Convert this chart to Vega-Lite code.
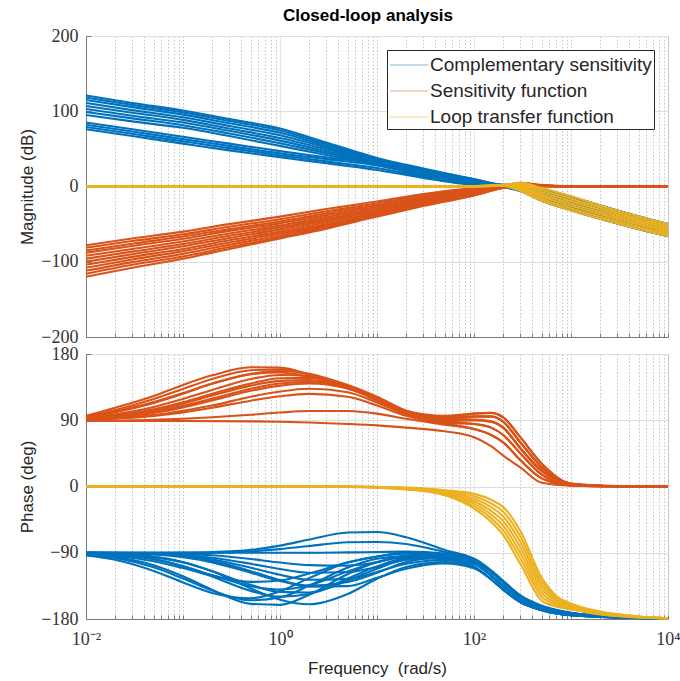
{
"$schema": "https://vega.github.io/schema/vega-lite/v6.json",
"background": "white",
"padding": {"left": 17, "top": 6, "right": 0, "bottom": 0},
"spacing": 17,
"bounds": "flush",
"config": {
  "view": {"stroke": "#7a7a7a", "strokeWidth": 1},
  "axis": {
    "labelFont": "Liberation Serif", "labelFontSize": 18, "labelColor": "#333333",
    "titleFont": "Liberation Sans", "titleFontSize": 17, "titleFontWeight": "normal", "titleColor": "#262626",
    "domainColor": "#7a7a7a", "tickColor": "#7a7a7a", "gridColor": "#dedede", "gridWidth": 1
  }
},
"datasets": {
"mag": [
{"s":"T","c":1,"f":0.01,"v":121},{"s":"T","c":1,"f":0.03,"v":111},{"s":"T","c":1,"f":0.1,"v":101},{"s":"T","c":1,"f":0.3,"v":89.5},{"s":"T","c":1,"f":1,"v":77},{"s":"T","c":1,"f":3,"v":58.4},{"s":"T","c":1,"f":10,"v":38},{"s":"T","c":1,"f":30,"v":24},{"s":"T","c":1,"f":100,"v":10},{"s":"T","c":1,"f":200,"v":2.5},{"s":"T","c":1,"f":300,"v":3},{"s":"T","c":1,"f":500,"v":-3},{"s":"T","c":1,"f":1000,"v":-13.5},{"s":"T","c":1,"f":3000,"v":-32},{"s":"T","c":1,"f":10000,"v":-50},
{"s":"T","c":2,"f":0.01,"v":118},{"s":"T","c":2,"f":0.03,"v":108.5},{"s":"T","c":2,"f":0.1,"v":98.5},{"s":"T","c":2,"f":0.3,"v":87},{"s":"T","c":2,"f":1,"v":74.5},{"s":"T","c":2,"f":3,"v":56.4},{"s":"T","c":2,"f":10,"v":36.5},{"s":"T","c":2,"f":30,"v":23},{"s":"T","c":2,"f":100,"v":9.5},{"s":"T","c":2,"f":200,"v":2},{"s":"T","c":2,"f":300,"v":1},{"s":"T","c":2,"f":500,"v":-6},{"s":"T","c":2,"f":1000,"v":-17},{"s":"T","c":2,"f":3000,"v":-35.5},{"s":"T","c":2,"f":10000,"v":-53},
{"s":"T","c":3,"f":0.01,"v":115},{"s":"T","c":3,"f":0.03,"v":105.5},{"s":"T","c":3,"f":0.1,"v":95.5},{"s":"T","c":3,"f":0.3,"v":84},{"s":"T","c":3,"f":1,"v":71.5},{"s":"T","c":3,"f":3,"v":54.1},{"s":"T","c":3,"f":10,"v":35},{"s":"T","c":3,"f":30,"v":22},{"s":"T","c":3,"f":100,"v":9},{"s":"T","c":3,"f":200,"v":1.5},{"s":"T","c":3,"f":300,"v":-1},{"s":"T","c":3,"f":500,"v":-9.5},{"s":"T","c":3,"f":1000,"v":-20.5},{"s":"T","c":3,"f":3000,"v":-39},{"s":"T","c":3,"f":10000,"v":-56},
{"s":"T","c":4,"f":0.01,"v":111},{"s":"T","c":4,"f":0.03,"v":101.5},{"s":"T","c":4,"f":0.1,"v":92},{"s":"T","c":4,"f":0.3,"v":80.5},{"s":"T","c":4,"f":1,"v":68},{"s":"T","c":4,"f":3,"v":51.8},{"s":"T","c":4,"f":10,"v":34},{"s":"T","c":4,"f":30,"v":21},{"s":"T","c":4,"f":100,"v":8},{"s":"T","c":4,"f":200,"v":1},{"s":"T","c":4,"f":300,"v":-2.5},{"s":"T","c":4,"f":500,"v":-12.5},{"s":"T","c":4,"f":1000,"v":-24},{"s":"T","c":4,"f":3000,"v":-42},{"s":"T","c":4,"f":10000,"v":-59},
{"s":"T","c":5,"f":0.01,"v":107},{"s":"T","c":5,"f":0.03,"v":98},{"s":"T","c":5,"f":0.1,"v":88.5},{"s":"T","c":5,"f":0.3,"v":77},{"s":"T","c":5,"f":1,"v":64.5},{"s":"T","c":5,"f":3,"v":49.5},{"s":"T","c":5,"f":10,"v":33},{"s":"T","c":5,"f":30,"v":20},{"s":"T","c":5,"f":100,"v":7},{"s":"T","c":5,"f":200,"v":0.5},{"s":"T","c":5,"f":300,"v":-4},{"s":"T","c":5,"f":500,"v":-15.5},{"s":"T","c":5,"f":1000,"v":-27.5},{"s":"T","c":5,"f":3000,"v":-45.5},{"s":"T","c":5,"f":10000,"v":-62.5},
{"s":"T","c":6,"f":0.01,"v":103},{"s":"T","c":6,"f":0.03,"v":94},{"s":"T","c":6,"f":0.1,"v":85},{"s":"T","c":6,"f":0.3,"v":74},{"s":"T","c":6,"f":1,"v":61},{"s":"T","c":6,"f":3,"v":46.9},{"s":"T","c":6,"f":10,"v":31.5},{"s":"T","c":6,"f":30,"v":19},{"s":"T","c":6,"f":100,"v":6.5},{"s":"T","c":6,"f":200,"v":0},{"s":"T","c":6,"f":300,"v":-6},{"s":"T","c":6,"f":500,"v":-19},{"s":"T","c":6,"f":1000,"v":-31.5},{"s":"T","c":6,"f":3000,"v":-49},{"s":"T","c":6,"f":10000,"v":-66},
{"s":"T","c":7,"f":0.01,"v":99},{"s":"T","c":7,"f":0.03,"v":90.5},{"s":"T","c":7,"f":0.1,"v":81.5},{"s":"T","c":7,"f":0.3,"v":70.5},{"s":"T","c":7,"f":1,"v":57.5},{"s":"T","c":7,"f":3,"v":44.4},{"s":"T","c":7,"f":10,"v":30},{"s":"T","c":7,"f":30,"v":18},{"s":"T","c":7,"f":100,"v":6},{"s":"T","c":7,"f":200,"v":-0.5},{"s":"T","c":7,"f":300,"v":3},{"s":"T","c":7,"f":500,"v":-3},{"s":"T","c":7,"f":1000,"v":-13.5},{"s":"T","c":7,"f":3000,"v":-32},{"s":"T","c":7,"f":10000,"v":-50},
{"s":"T","c":8,"f":0.01,"v":95},{"s":"T","c":8,"f":0.03,"v":86.5},{"s":"T","c":8,"f":0.1,"v":78},{"s":"T","c":8,"f":0.3,"v":67},{"s":"T","c":8,"f":1,"v":54},{"s":"T","c":8,"f":3,"v":41.8},{"s":"T","c":8,"f":10,"v":28.5},{"s":"T","c":8,"f":30,"v":17},{"s":"T","c":8,"f":100,"v":5},{"s":"T","c":8,"f":200,"v":-1},{"s":"T","c":8,"f":300,"v":-1},{"s":"T","c":8,"f":500,"v":-9.5},{"s":"T","c":8,"f":1000,"v":-20.5},{"s":"T","c":8,"f":3000,"v":-39},{"s":"T","c":8,"f":10000,"v":-56},
{"s":"T","c":9,"f":0.01,"v":85},{"s":"T","c":9,"f":0.03,"v":76},{"s":"T","c":9,"f":0.1,"v":66},{"s":"T","c":9,"f":0.3,"v":57},{"s":"T","c":9,"f":1,"v":47},{"s":"T","c":9,"f":3,"v":38.9},{"s":"T","c":9,"f":10,"v":30},{"s":"T","c":9,"f":30,"v":16},{"s":"T","c":9,"f":100,"v":5},{"s":"T","c":9,"f":200,"v":0.5},{"s":"T","c":9,"f":300,"v":1},{"s":"T","c":9,"f":500,"v":-6},{"s":"T","c":9,"f":1000,"v":-17},{"s":"T","c":9,"f":3000,"v":-35.5},{"s":"T","c":9,"f":10000,"v":-53},
{"s":"T","c":10,"f":0.01,"v":82},{"s":"T","c":10,"f":0.03,"v":73},{"s":"T","c":10,"f":0.1,"v":63},{"s":"T","c":10,"f":0.3,"v":54},{"s":"T","c":10,"f":1,"v":44},{"s":"T","c":10,"f":3,"v":36.4},{"s":"T","c":10,"f":10,"v":28},{"s":"T","c":10,"f":30,"v":14.5},{"s":"T","c":10,"f":100,"v":4},{"s":"T","c":10,"f":200,"v":0},{"s":"T","c":10,"f":300,"v":-2.5},{"s":"T","c":10,"f":500,"v":-12.5},{"s":"T","c":10,"f":1000,"v":-24},{"s":"T","c":10,"f":3000,"v":-42},{"s":"T","c":10,"f":10000,"v":-59},
{"s":"T","c":11,"f":0.01,"v":79},{"s":"T","c":11,"f":0.03,"v":70},{"s":"T","c":11,"f":0.1,"v":60},{"s":"T","c":11,"f":0.3,"v":51},{"s":"T","c":11,"f":1,"v":41.5},{"s":"T","c":11,"f":3,"v":33.4},{"s":"T","c":11,"f":10,"v":24.5},{"s":"T","c":11,"f":30,"v":13},{"s":"T","c":11,"f":100,"v":3},{"s":"T","c":11,"f":200,"v":-0.5},{"s":"T","c":11,"f":300,"v":-4},{"s":"T","c":11,"f":500,"v":-15.5},{"s":"T","c":11,"f":1000,"v":-27.5},{"s":"T","c":11,"f":3000,"v":-45.5},{"s":"T","c":11,"f":10000,"v":-62.5},
{"s":"T","c":12,"f":0.01,"v":76},{"s":"T","c":12,"f":0.03,"v":67},{"s":"T","c":12,"f":0.1,"v":57},{"s":"T","c":12,"f":0.3,"v":48},{"s":"T","c":12,"f":1,"v":39},{"s":"T","c":12,"f":3,"v":30.9},{"s":"T","c":12,"f":10,"v":22},{"s":"T","c":12,"f":30,"v":11.5},{"s":"T","c":12,"f":100,"v":2},{"s":"T","c":12,"f":200,"v":-1},{"s":"T","c":12,"f":300,"v":-6},{"s":"T","c":12,"f":500,"v":-19},{"s":"T","c":12,"f":1000,"v":-31.5},{"s":"T","c":12,"f":3000,"v":-49},{"s":"T","c":12,"f":10000,"v":-66},
{"s":"S","c":21,"f":0.01,"v":-78},{"s":"S","c":21,"f":0.03,"v":-69},{"s":"S","c":21,"f":0.1,"v":-60},{"s":"S","c":21,"f":0.3,"v":-50},{"s":"S","c":21,"f":1,"v":-40},{"s":"S","c":21,"f":3,"v":-30},{"s":"S","c":21,"f":10,"v":-20},{"s":"S","c":21,"f":30,"v":-10},{"s":"S","c":21,"f":100,"v":-2},{"s":"S","c":21,"f":200,"v":1},{"s":"S","c":21,"f":300,"v":5},{"s":"S","c":21,"f":500,"v":2},{"s":"S","c":21,"f":1000,"v":0.3},{"s":"S","c":21,"f":3000,"v":0},{"s":"S","c":21,"f":10000,"v":0},
{"s":"S","c":22,"f":0.01,"v":-81.5},{"s":"S","c":22,"f":0.03,"v":-72.5},{"s":"S","c":22,"f":0.1,"v":-63.5},{"s":"S","c":22,"f":0.3,"v":-53.5},{"s":"S","c":22,"f":1,"v":-43.5},{"s":"S","c":22,"f":3,"v":-33},{"s":"S","c":22,"f":10,"v":-22.5},{"s":"S","c":22,"f":30,"v":-12},{"s":"S","c":22,"f":100,"v":-3},{"s":"S","c":22,"f":200,"v":0.5},{"s":"S","c":22,"f":300,"v":4.5},{"s":"S","c":22,"f":500,"v":1.8},{"s":"S","c":22,"f":1000,"v":0.3},{"s":"S","c":22,"f":3000,"v":0},{"s":"S","c":22,"f":10000,"v":0},
{"s":"S","c":23,"f":0.01,"v":-85},{"s":"S","c":23,"f":0.03,"v":-76},{"s":"S","c":23,"f":0.1,"v":-66.5},{"s":"S","c":23,"f":0.3,"v":-56.5},{"s":"S","c":23,"f":1,"v":-46.5},{"s":"S","c":23,"f":3,"v":-35.5},{"s":"S","c":23,"f":10,"v":-25},{"s":"S","c":23,"f":30,"v":-14},{"s":"S","c":23,"f":100,"v":-4},{"s":"S","c":23,"f":200,"v":0.5},{"s":"S","c":23,"f":300,"v":4},{"s":"S","c":23,"f":500,"v":1.6},{"s":"S","c":23,"f":1000,"v":0.3},{"s":"S","c":23,"f":3000,"v":0},{"s":"S","c":23,"f":10000,"v":0},
{"s":"S","c":24,"f":0.01,"v":-88},{"s":"S","c":24,"f":0.03,"v":-79},{"s":"S","c":24,"f":0.1,"v":-69.5},{"s":"S","c":24,"f":0.3,"v":-59},{"s":"S","c":24,"f":1,"v":-49},{"s":"S","c":24,"f":3,"v":-38},{"s":"S","c":24,"f":10,"v":-27},{"s":"S","c":24,"f":30,"v":-15.5},{"s":"S","c":24,"f":100,"v":-5},{"s":"S","c":24,"f":200,"v":0},{"s":"S","c":24,"f":300,"v":3.5},{"s":"S","c":24,"f":500,"v":1.4},{"s":"S","c":24,"f":1000,"v":0.3},{"s":"S","c":24,"f":3000,"v":0},{"s":"S","c":24,"f":10000,"v":0},
{"s":"S","c":25,"f":0.01,"v":-92},{"s":"S","c":25,"f":0.03,"v":-83},{"s":"S","c":25,"f":0.1,"v":-73},{"s":"S","c":25,"f":0.3,"v":-62.5},{"s":"S","c":25,"f":1,"v":-52},{"s":"S","c":25,"f":3,"v":-40.5},{"s":"S","c":25,"f":10,"v":-29},{"s":"S","c":25,"f":30,"v":-17},{"s":"S","c":25,"f":100,"v":-6},{"s":"S","c":25,"f":200,"v":0},{"s":"S","c":25,"f":300,"v":3},{"s":"S","c":25,"f":500,"v":1.2},{"s":"S","c":25,"f":1000,"v":0.2},{"s":"S","c":25,"f":3000,"v":0},{"s":"S","c":25,"f":10000,"v":0},
{"s":"S","c":26,"f":0.01,"v":-96},{"s":"S","c":26,"f":0.03,"v":-86.5},{"s":"S","c":26,"f":0.1,"v":-76.5},{"s":"S","c":26,"f":0.3,"v":-65.5},{"s":"S","c":26,"f":1,"v":-54.5},{"s":"S","c":26,"f":3,"v":-43},{"s":"S","c":26,"f":10,"v":-31},{"s":"S","c":26,"f":30,"v":-18.5},{"s":"S","c":26,"f":100,"v":-7},{"s":"S","c":26,"f":200,"v":-0.5},{"s":"S","c":26,"f":300,"v":2.5},{"s":"S","c":26,"f":500,"v":1},{"s":"S","c":26,"f":1000,"v":0.2},{"s":"S","c":26,"f":3000,"v":0},{"s":"S","c":26,"f":10000,"v":0},
{"s":"S","c":27,"f":0.01,"v":-100},{"s":"S","c":27,"f":0.03,"v":-90},{"s":"S","c":27,"f":0.1,"v":-79.5},{"s":"S","c":27,"f":0.3,"v":-68.5},{"s":"S","c":27,"f":1,"v":-57},{"s":"S","c":27,"f":3,"v":-45},{"s":"S","c":27,"f":10,"v":-33},{"s":"S","c":27,"f":30,"v":-20},{"s":"S","c":27,"f":100,"v":-8},{"s":"S","c":27,"f":200,"v":-0.5},{"s":"S","c":27,"f":300,"v":2},{"s":"S","c":27,"f":500,"v":0.9},{"s":"S","c":27,"f":1000,"v":0.2},{"s":"S","c":27,"f":3000,"v":0},{"s":"S","c":27,"f":10000,"v":0},
{"s":"S","c":28,"f":0.01,"v":-104},{"s":"S","c":28,"f":0.03,"v":-93.5},{"s":"S","c":28,"f":0.1,"v":-83},{"s":"S","c":28,"f":0.3,"v":-71.5},{"s":"S","c":28,"f":1,"v":-60},{"s":"S","c":28,"f":3,"v":-47.5},{"s":"S","c":28,"f":10,"v":-35},{"s":"S","c":28,"f":30,"v":-21.5},{"s":"S","c":28,"f":100,"v":-9},{"s":"S","c":28,"f":200,"v":-1},{"s":"S","c":28,"f":300,"v":1.5},{"s":"S","c":28,"f":500,"v":0.8},{"s":"S","c":28,"f":1000,"v":0.2},{"s":"S","c":28,"f":3000,"v":0},{"s":"S","c":28,"f":10000,"v":0},
{"s":"S","c":29,"f":0.01,"v":-108},{"s":"S","c":29,"f":0.03,"v":-97},{"s":"S","c":29,"f":0.1,"v":-86},{"s":"S","c":29,"f":0.3,"v":-74.5},{"s":"S","c":29,"f":1,"v":-62.5},{"s":"S","c":29,"f":3,"v":-50},{"s":"S","c":29,"f":10,"v":-36.5},{"s":"S","c":29,"f":30,"v":-23},{"s":"S","c":29,"f":100,"v":-10},{"s":"S","c":29,"f":200,"v":-1},{"s":"S","c":29,"f":300,"v":1},{"s":"S","c":29,"f":500,"v":0.6},{"s":"S","c":29,"f":1000,"v":0.1},{"s":"S","c":29,"f":3000,"v":0},{"s":"S","c":29,"f":10000,"v":0},
{"s":"S","c":30,"f":0.01,"v":-112},{"s":"S","c":30,"f":0.03,"v":-100.5},{"s":"S","c":30,"f":0.1,"v":-89.5},{"s":"S","c":30,"f":0.3,"v":-77.5},{"s":"S","c":30,"f":1,"v":-65},{"s":"S","c":30,"f":3,"v":-52},{"s":"S","c":30,"f":10,"v":-38},{"s":"S","c":30,"f":30,"v":-24},{"s":"S","c":30,"f":100,"v":-10.5},{"s":"S","c":30,"f":200,"v":-1.5},{"s":"S","c":30,"f":300,"v":1},{"s":"S","c":30,"f":500,"v":0.5},{"s":"S","c":30,"f":1000,"v":0.1},{"s":"S","c":30,"f":3000,"v":0},{"s":"S","c":30,"f":10000,"v":0},
{"s":"S","c":31,"f":0.01,"v":-116},{"s":"S","c":31,"f":0.03,"v":-104},{"s":"S","c":31,"f":0.1,"v":-93},{"s":"S","c":31,"f":0.3,"v":-80.5},{"s":"S","c":31,"f":1,"v":-67.5},{"s":"S","c":31,"f":3,"v":-54},{"s":"S","c":31,"f":10,"v":-39},{"s":"S","c":31,"f":30,"v":-25},{"s":"S","c":31,"f":100,"v":-11.5},{"s":"S","c":31,"f":200,"v":-2},{"s":"S","c":31,"f":300,"v":0.5},{"s":"S","c":31,"f":500,"v":0.4},{"s":"S","c":31,"f":1000,"v":0.1},{"s":"S","c":31,"f":3000,"v":0},{"s":"S","c":31,"f":10000,"v":0},
{"s":"S","c":32,"f":0.01,"v":-120},{"s":"S","c":32,"f":0.03,"v":-108},{"s":"S","c":32,"f":0.1,"v":-96},{"s":"S","c":32,"f":0.3,"v":-83},{"s":"S","c":32,"f":1,"v":-69},{"s":"S","c":32,"f":3,"v":-56},{"s":"S","c":32,"f":10,"v":-40},{"s":"S","c":32,"f":30,"v":-26},{"s":"S","c":32,"f":100,"v":-12},{"s":"S","c":32,"f":200,"v":-2},{"s":"S","c":32,"f":300,"v":0.5},{"s":"S","c":32,"f":500,"v":0.3},{"s":"S","c":32,"f":1000,"v":0.1},{"s":"S","c":32,"f":3000,"v":0},{"s":"S","c":32,"f":10000,"v":0},
{"s":"L","c":41,"f":0.01,"v":0},{"s":"L","c":41,"f":50,"v":0},{"s":"L","c":41,"f":100,"v":0.5},{"s":"L","c":41,"f":150,"v":1.5},{"s":"L","c":41,"f":200,"v":1},{"s":"L","c":41,"f":300,"v":-6},{"s":"L","c":41,"f":500,"v":-19},{"s":"L","c":41,"f":1000,"v":-32},{"s":"L","c":41,"f":3000,"v":-49},{"s":"L","c":41,"f":10000,"v":-66},
{"s":"L","c":42,"f":0.01,"v":0},{"s":"L","c":42,"f":50,"v":0},{"s":"L","c":42,"f":100,"v":0.4},{"s":"L","c":42,"f":150,"v":1.3},{"s":"L","c":42,"f":200,"v":1.2},{"s":"L","c":42,"f":300,"v":-4.2},{"s":"L","c":42,"f":500,"v":-16.2},{"s":"L","c":42,"f":1000,"v":-28.8},{"s":"L","c":42,"f":3000,"v":-46.2},{"s":"L","c":42,"f":10000,"v":-63.3},
{"s":"L","c":43,"f":0.01,"v":0},{"s":"L","c":43,"f":50,"v":0},{"s":"L","c":43,"f":100,"v":0.3},{"s":"L","c":43,"f":150,"v":1.2},{"s":"L","c":43,"f":200,"v":1.3},{"s":"L","c":43,"f":300,"v":-2.3},{"s":"L","c":43,"f":500,"v":-13.3},{"s":"L","c":43,"f":1000,"v":-25.7},{"s":"L","c":43,"f":3000,"v":-43.3},{"s":"L","c":43,"f":10000,"v":-60.7},
{"s":"L","c":44,"f":0.01,"v":0},{"s":"L","c":44,"f":50,"v":0},{"s":"L","c":44,"f":100,"v":0.25},{"s":"L","c":44,"f":150,"v":1},{"s":"L","c":44,"f":200,"v":1.5},{"s":"L","c":44,"f":300,"v":-0.5},{"s":"L","c":44,"f":500,"v":-10.5},{"s":"L","c":44,"f":1000,"v":-22.5},{"s":"L","c":44,"f":3000,"v":-40.5},{"s":"L","c":44,"f":10000,"v":-58},
{"s":"L","c":45,"f":0.01,"v":0},{"s":"L","c":45,"f":50,"v":0},{"s":"L","c":45,"f":100,"v":0.2},{"s":"L","c":45,"f":150,"v":0.8},{"s":"L","c":45,"f":200,"v":1.7},{"s":"L","c":45,"f":300,"v":1.3},{"s":"L","c":45,"f":500,"v":-7.7},{"s":"L","c":45,"f":1000,"v":-19.3},{"s":"L","c":45,"f":3000,"v":-37.7},{"s":"L","c":45,"f":10000,"v":-55.3},
{"s":"L","c":46,"f":0.01,"v":0},{"s":"L","c":46,"f":50,"v":0},{"s":"L","c":46,"f":100,"v":0.1},{"s":"L","c":46,"f":150,"v":0.7},{"s":"L","c":46,"f":200,"v":1.8},{"s":"L","c":46,"f":300,"v":3.2},{"s":"L","c":46,"f":500,"v":-4.8},{"s":"L","c":46,"f":1000,"v":-16.2},{"s":"L","c":46,"f":3000,"v":-34.8},{"s":"L","c":46,"f":10000,"v":-52.7},
{"s":"L","c":47,"f":0.01,"v":0},{"s":"L","c":47,"f":50,"v":0},{"s":"L","c":47,"f":100,"v":0},{"s":"L","c":47,"f":150,"v":0.5},{"s":"L","c":47,"f":200,"v":2},{"s":"L","c":47,"f":300,"v":5},{"s":"L","c":47,"f":500,"v":-2},{"s":"L","c":47,"f":1000,"v":-13},{"s":"L","c":47,"f":3000,"v":-32},{"s":"L","c":47,"f":10000,"v":-50}
],
"ph": [
{"s":"T","c":1,"f":0.01,"v":-92},{"s":"T","c":1,"f":0.02,"v":-95.5},{"s":"T","c":1,"f":0.05,"v":-107},{"s":"T","c":1,"f":0.1,"v":-122},{"s":"T","c":1,"f":0.2,"v":-140.4},{"s":"T","c":1,"f":0.5,"v":-159.4},{"s":"T","c":1,"f":1,"v":-160.8},{"s":"T","c":1,"f":2,"v":-147},{"s":"T","c":1,"f":5,"v":-118.8},{"s":"T","c":1,"f":10,"v":-103},{"s":"T","c":1,"f":20,"v":-96.5},{"s":"T","c":1,"f":50,"v":-98.8},{"s":"T","c":1,"f":100,"v":-109},{"s":"T","c":1,"f":150,"v":-126},{"s":"T","c":1,"f":200,"v":-140},{"s":"T","c":1,"f":300,"v":-157},{"s":"T","c":1,"f":500,"v":-168},{"s":"T","c":1,"f":1000,"v":-175},{"s":"T","c":1,"f":3000,"v":-178},{"s":"T","c":1,"f":10000,"v":-179.5},
{"s":"T","c":2,"f":0.01,"v":-93.8},{"s":"T","c":2,"f":0.02,"v":-99.6},{"s":"T","c":2,"f":0.05,"v":-114.8},{"s":"T","c":2,"f":0.1,"v":-130.3},{"s":"T","c":2,"f":0.2,"v":-144.6},{"s":"T","c":2,"f":0.5,"v":-151.8},{"s":"T","c":2,"f":1,"v":-142.3},{"s":"T","c":2,"f":2,"v":-124.5},{"s":"T","c":2,"f":5,"v":-103.4},{"s":"T","c":2,"f":10,"v":-95},{"s":"T","c":2,"f":20,"v":-91.4},{"s":"T","c":2,"f":50,"v":-95},{"s":"T","c":2,"f":100,"v":-104},{"s":"T","c":2,"f":150,"v":-121},{"s":"T","c":2,"f":200,"v":-135},{"s":"T","c":2,"f":300,"v":-153},{"s":"T","c":2,"f":500,"v":-166},{"s":"T","c":2,"f":1000,"v":-173.5},{"s":"T","c":2,"f":3000,"v":-177.5},{"s":"T","c":2,"f":10000,"v":-179.3},
{"s":"T","c":3,"f":0.01,"v":-92.5},{"s":"T","c":3,"f":0.02,"v":-97},{"s":"T","c":3,"f":0.05,"v":-109.8},{"s":"T","c":3,"f":0.1,"v":-125},{"s":"T","c":3,"f":0.2,"v":-141.4},{"s":"T","c":3,"f":0.5,"v":-154.5},{"s":"T","c":3,"f":1,"v":-150.8},{"s":"T","c":3,"f":2,"v":-134.7},{"s":"T","c":3,"f":5,"v":-110},{"s":"T","c":3,"f":10,"v":-98.2},{"s":"T","c":3,"f":20,"v":-94.6},{"s":"T","c":3,"f":50,"v":-98.3},{"s":"T","c":3,"f":100,"v":-109},{"s":"T","c":3,"f":150,"v":-126},{"s":"T","c":3,"f":200,"v":-140},{"s":"T","c":3,"f":300,"v":-157},{"s":"T","c":3,"f":500,"v":-168},{"s":"T","c":3,"f":1000,"v":-175},{"s":"T","c":3,"f":3000,"v":-178},{"s":"T","c":3,"f":10000,"v":-179.5},
{"s":"T","c":4,"f":0.01,"v":-90.3},{"s":"T","c":4,"f":0.02,"v":-91.2},{"s":"T","c":4,"f":0.05,"v":-95.1},{"s":"T","c":4,"f":0.1,"v":-102.5},{"s":"T","c":4,"f":0.2,"v":-115.2},{"s":"T","c":4,"f":0.5,"v":-138.5},{"s":"T","c":4,"f":1,"v":-153.8},{"s":"T","c":4,"f":2,"v":-160},{"s":"T","c":4,"f":5,"v":-146},{"s":"T","c":4,"f":10,"v":-125.4},{"s":"T","c":4,"f":20,"v":-109.4},{"s":"T","c":4,"f":50,"v":-102.6},{"s":"T","c":4,"f":100,"v":-110.3},{"s":"T","c":4,"f":150,"v":-126},{"s":"T","c":4,"f":200,"v":-140},{"s":"T","c":4,"f":300,"v":-157},{"s":"T","c":4,"f":500,"v":-168},{"s":"T","c":4,"f":1000,"v":-175},{"s":"T","c":4,"f":3000,"v":-178},{"s":"T","c":4,"f":10000,"v":-179.5},
{"s":"T","c":5,"f":0.01,"v":-90.7},{"s":"T","c":5,"f":0.02,"v":-92.3},{"s":"T","c":5,"f":0.05,"v":-98.6},{"s":"T","c":5,"f":0.1,"v":-108.2},{"s":"T","c":5,"f":0.2,"v":-122.3},{"s":"T","c":5,"f":0.5,"v":-141.8},{"s":"T","c":5,"f":1,"v":-149.6},{"s":"T","c":5,"f":2,"v":-146},{"s":"T","c":5,"f":5,"v":-125},{"s":"T","c":5,"f":10,"v":-108.5},{"s":"T","c":5,"f":20,"v":-97.6},{"s":"T","c":5,"f":50,"v":-96.6},{"s":"T","c":5,"f":100,"v":-104},{"s":"T","c":5,"f":150,"v":-121},{"s":"T","c":5,"f":200,"v":-135},{"s":"T","c":5,"f":300,"v":-153},{"s":"T","c":5,"f":500,"v":-166},{"s":"T","c":5,"f":1000,"v":-173.5},{"s":"T","c":5,"f":3000,"v":-177.5},{"s":"T","c":5,"f":10000,"v":-179.3},
{"s":"T","c":6,"f":0.01,"v":-90.4},{"s":"T","c":6,"f":0.02,"v":-91.5},{"s":"T","c":6,"f":0.05,"v":-95.9},{"s":"T","c":6,"f":0.1,"v":-103.3},{"s":"T","c":6,"f":0.2,"v":-115},{"s":"T","c":6,"f":0.5,"v":-133.5},{"s":"T","c":6,"f":1,"v":-143.2},{"s":"T","c":6,"f":2,"v":-143.9},{"s":"T","c":6,"f":5,"v":-127.8},{"s":"T","c":6,"f":10,"v":-111.6},{"s":"T","c":6,"f":20,"v":-99.6},{"s":"T","c":6,"f":50,"v":-97.2},{"s":"T","c":6,"f":100,"v":-104},{"s":"T","c":6,"f":150,"v":-121},{"s":"T","c":6,"f":200,"v":-135},{"s":"T","c":6,"f":300,"v":-153},{"s":"T","c":6,"f":500,"v":-166},{"s":"T","c":6,"f":1000,"v":-173.5},{"s":"T","c":6,"f":3000,"v":-177.5},{"s":"T","c":6,"f":10000,"v":-179.3},
{"s":"T","c":7,"f":0.01,"v":-90.1},{"s":"T","c":7,"f":0.02,"v":-90.5},{"s":"T","c":7,"f":0.05,"v":-92.3},{"s":"T","c":7,"f":0.1,"v":-96.1},{"s":"T","c":7,"f":0.2,"v":-103.1},{"s":"T","c":7,"f":0.5,"v":-117.3},{"s":"T","c":7,"f":1,"v":-128.2},{"s":"T","c":7,"f":2,"v":-134.6},{"s":"T","c":7,"f":5,"v":-129.7},{"s":"T","c":7,"f":10,"v":-117.3},{"s":"T","c":7,"f":20,"v":-102.6},{"s":"T","c":7,"f":50,"v":-96.3},{"s":"T","c":7,"f":100,"v":-101.3},{"s":"T","c":7,"f":150,"v":-116},{"s":"T","c":7,"f":200,"v":-130},{"s":"T","c":7,"f":300,"v":-149},{"s":"T","c":7,"f":500,"v":-163},{"s":"T","c":7,"f":1000,"v":-172},{"s":"T","c":7,"f":3000,"v":-177},{"s":"T","c":7,"f":10000,"v":-179},
{"s":"T","c":8,"f":0.01,"v":-90},{"s":"T","c":8,"f":0.02,"v":-90.3},{"s":"T","c":8,"f":0.05,"v":-91.5},{"s":"T","c":8,"f":0.1,"v":-94.1},{"s":"T","c":8,"f":0.2,"v":-99.2},{"s":"T","c":8,"f":0.5,"v":-110.4},{"s":"T","c":8,"f":1,"v":-120},{"s":"T","c":8,"f":2,"v":-126.7},{"s":"T","c":8,"f":5,"v":-125.5},{"s":"T","c":8,"f":10,"v":-116.1},{"s":"T","c":8,"f":20,"v":-105},{"s":"T","c":8,"f":50,"v":-99.8},{"s":"T","c":8,"f":100,"v":-105.5},{"s":"T","c":8,"f":150,"v":-121},{"s":"T","c":8,"f":200,"v":-135},{"s":"T","c":8,"f":300,"v":-153},{"s":"T","c":8,"f":500,"v":-166},{"s":"T","c":8,"f":1000,"v":-173.5},{"s":"T","c":8,"f":3000,"v":-177.5},{"s":"T","c":8,"f":10000,"v":-179.3},
{"s":"T","c":9,"f":0.01,"v":-90},{"s":"T","c":9,"f":0.02,"v":-90.2},{"s":"T","c":9,"f":0.05,"v":-91.1},{"s":"T","c":9,"f":0.1,"v":-93},{"s":"T","c":9,"f":0.2,"v":-96.8},{"s":"T","c":9,"f":0.5,"v":-105},{"s":"T","c":9,"f":1,"v":-112.1},{"s":"T","c":9,"f":2,"v":-117.1},{"s":"T","c":9,"f":5,"v":-116.2},{"s":"T","c":9,"f":10,"v":-109.2},{"s":"T","c":9,"f":20,"v":-99},{"s":"T","c":9,"f":50,"v":-95.5},{"s":"T","c":9,"f":100,"v":-101.1},{"s":"T","c":9,"f":150,"v":-116},{"s":"T","c":9,"f":200,"v":-130},{"s":"T","c":9,"f":300,"v":-149},{"s":"T","c":9,"f":500,"v":-163},{"s":"T","c":9,"f":1000,"v":-172},{"s":"T","c":9,"f":3000,"v":-177},{"s":"T","c":9,"f":10000,"v":-179},
{"s":"T","c":10,"f":0.01,"v":-90},{"s":"T","c":10,"f":0.02,"v":-90},{"s":"T","c":10,"f":0.05,"v":-90.5},{"s":"T","c":10,"f":0.1,"v":-91.5},{"s":"T","c":10,"f":0.2,"v":-93.5},{"s":"T","c":10,"f":0.5,"v":-98.5},{"s":"T","c":10,"f":1,"v":-103.3},{"s":"T","c":10,"f":2,"v":-106.8},{"s":"T","c":10,"f":5,"v":-107.5},{"s":"T","c":10,"f":10,"v":-103},{"s":"T","c":10,"f":20,"v":-94},{"s":"T","c":10,"f":50,"v":-93.5},{"s":"T","c":10,"f":100,"v":-100.5},{"s":"T","c":10,"f":150,"v":-116},{"s":"T","c":10,"f":200,"v":-130},{"s":"T","c":10,"f":300,"v":-149},{"s":"T","c":10,"f":500,"v":-163},{"s":"T","c":10,"f":1000,"v":-172},{"s":"T","c":10,"f":3000,"v":-177},{"s":"T","c":10,"f":10000,"v":-179},
{"s":"T","c":11,"f":0.01,"v":-90},{"s":"T","c":11,"f":0.1,"v":-90},{"s":"T","c":11,"f":1,"v":-90},{"s":"T","c":11,"f":2,"v":-90},{"s":"T","c":11,"f":5,"v":-89.5},{"s":"T","c":11,"f":10,"v":-89},{"s":"T","c":11,"f":20,"v":-88.5},{"s":"T","c":11,"f":50,"v":-91},{"s":"T","c":11,"f":100,"v":-98},{"s":"T","c":11,"f":150,"v":-114},{"s":"T","c":11,"f":200,"v":-128},{"s":"T","c":11,"f":300,"v":-148},{"s":"T","c":11,"f":500,"v":-162},{"s":"T","c":11,"f":1000,"v":-171.5},{"s":"T","c":11,"f":3000,"v":-176.8},{"s":"T","c":11,"f":10000,"v":-179},
{"s":"T","c":12,"f":0.01,"v":-90},{"s":"T","c":12,"f":0.1,"v":-90},{"s":"T","c":12,"f":0.2,"v":-89.8},{"s":"T","c":12,"f":0.5,"v":-88},{"s":"T","c":12,"f":1,"v":-85.1},{"s":"T","c":12,"f":2,"v":-80.9},{"s":"T","c":12,"f":5,"v":-75.8},{"s":"T","c":12,"f":10,"v":-75.4},{"s":"T","c":12,"f":20,"v":-78},{"s":"T","c":12,"f":50,"v":-89},{"s":"T","c":12,"f":100,"v":-99},{"s":"T","c":12,"f":150,"v":-115},{"s":"T","c":12,"f":200,"v":-129},{"s":"T","c":12,"f":300,"v":-148.5},{"s":"T","c":12,"f":500,"v":-162.5},{"s":"T","c":12,"f":1000,"v":-171.8},{"s":"T","c":12,"f":3000,"v":-177},{"s":"T","c":12,"f":10000,"v":-179},
{"s":"T","c":13,"f":0.01,"v":-90},{"s":"T","c":13,"f":0.05,"v":-90},{"s":"T","c":13,"f":0.1,"v":-89.8},{"s":"T","c":13,"f":0.2,"v":-89.1},{"s":"T","c":13,"f":0.5,"v":-86},{"s":"T","c":13,"f":1,"v":-80.3},{"s":"T","c":13,"f":2,"v":-72.1},{"s":"T","c":13,"f":5,"v":-62.5},{"s":"T","c":13,"f":10,"v":-61.9},{"s":"T","c":13,"f":20,"v":-69},{"s":"T","c":13,"f":50,"v":-86.2},{"s":"T","c":13,"f":100,"v":-98.5},{"s":"T","c":13,"f":150,"v":-115.5},{"s":"T","c":13,"f":200,"v":-129.5},{"s":"T","c":13,"f":300,"v":-148.5},{"s":"T","c":13,"f":500,"v":-162.5},{"s":"T","c":13,"f":1000,"v":-171.8},{"s":"T","c":13,"f":3000,"v":-177},{"s":"T","c":13,"f":10000,"v":-179},
{"s":"T","c":14,"f":0.01,"v":-90.9},{"s":"T","c":14,"f":0.02,"v":-92.6},{"s":"T","c":14,"f":0.05,"v":-98.9},{"s":"T","c":14,"f":0.1,"v":-108},{"s":"T","c":14,"f":0.2,"v":-120.4},{"s":"T","c":14,"f":0.5,"v":-135.6},{"s":"T","c":14,"f":1,"v":-140},{"s":"T","c":14,"f":2,"v":-134.2},{"s":"T","c":14,"f":5,"v":-115.3},{"s":"T","c":14,"f":10,"v":-102.5},{"s":"T","c":14,"f":20,"v":-94.8},{"s":"T","c":14,"f":50,"v":-95.9},{"s":"T","c":14,"f":100,"v":-104},{"s":"T","c":14,"f":150,"v":-121},{"s":"T","c":14,"f":200,"v":-135},{"s":"T","c":14,"f":300,"v":-153},{"s":"T","c":14,"f":500,"v":-166},{"s":"T","c":14,"f":1000,"v":-173.5},{"s":"T","c":14,"f":3000,"v":-177.5},{"s":"T","c":14,"f":10000,"v":-179.3},
{"s":"T","c":15,"f":0.01,"v":-91.5},{"s":"T","c":15,"f":0.02,"v":-94},{"s":"T","c":15,"f":0.05,"v":-101.6},{"s":"T","c":15,"f":0.1,"v":-110.8},{"s":"T","c":15,"f":0.2,"v":-121},{"s":"T","c":15,"f":0.5,"v":-129.6},{"s":"T","c":15,"f":1,"v":-127.8},{"s":"T","c":15,"f":2,"v":-118.3},{"s":"T","c":15,"f":5,"v":-103},{"s":"T","c":15,"f":10,"v":-95.4},{"s":"T","c":15,"f":20,"v":-89.8},{"s":"T","c":15,"f":50,"v":-92},{"s":"T","c":15,"f":100,"v":-100},{"s":"T","c":15,"f":150,"v":-116},{"s":"T","c":15,"f":200,"v":-130},{"s":"T","c":15,"f":300,"v":-149},{"s":"T","c":15,"f":500,"v":-163},{"s":"T","c":15,"f":1000,"v":-172},{"s":"T","c":15,"f":3000,"v":-177},{"s":"T","c":15,"f":10000,"v":-179},
{"s":"T","c":16,"f":0.01,"v":-90},{"s":"T","c":16,"f":0.05,"v":-91.8},{"s":"T","c":16,"f":0.1,"v":-94.8},{"s":"T","c":16,"f":0.2,"v":-101},{"s":"T","c":16,"f":0.5,"v":-115},{"s":"T","c":16,"f":1,"v":-127.2},{"s":"T","c":16,"f":2,"v":-136},{"s":"T","c":16,"f":5,"v":-135.4},{"s":"T","c":16,"f":10,"v":-124},{"s":"T","c":16,"f":20,"v":-111.7},{"s":"T","c":16,"f":50,"v":-104.5},{"s":"T","c":16,"f":100,"v":-111},{"s":"T","c":16,"f":150,"v":-126},{"s":"T","c":16,"f":200,"v":-140},{"s":"T","c":16,"f":300,"v":-157},{"s":"T","c":16,"f":500,"v":-168},{"s":"T","c":16,"f":1000,"v":-175},{"s":"T","c":16,"f":3000,"v":-178},{"s":"T","c":16,"f":10000,"v":-179.5},
{"s":"S","c":21,"f":0.01,"v":96},{"s":"S","c":21,"f":0.02,"v":107},{"s":"S","c":21,"f":0.05,"v":123},{"s":"S","c":21,"f":0.1,"v":138},{"s":"S","c":21,"f":0.2,"v":151},{"s":"S","c":21,"f":0.5,"v":162},{"s":"S","c":21,"f":1,"v":161.5},{"s":"S","c":21,"f":2,"v":152},{"s":"S","c":21,"f":5,"v":133},{"s":"S","c":21,"f":10,"v":119},{"s":"S","c":21,"f":20,"v":101},{"s":"S","c":21,"f":50,"v":95},{"s":"S","c":21,"f":100,"v":99},{"s":"S","c":21,"f":150,"v":100},{"s":"S","c":21,"f":200,"v":94},{"s":"S","c":21,"f":300,"v":67},{"s":"S","c":21,"f":500,"v":31},{"s":"S","c":21,"f":1000,"v":4},{"s":"S","c":21,"f":3000,"v":0.5},{"s":"S","c":21,"f":10000,"v":0},
{"s":"S","c":22,"f":0.01,"v":95},{"s":"S","c":22,"f":0.02,"v":104},{"s":"S","c":22,"f":0.05,"v":119},{"s":"S","c":22,"f":0.1,"v":132.5},{"s":"S","c":22,"f":0.2,"v":146},{"s":"S","c":22,"f":0.5,"v":158},{"s":"S","c":22,"f":1,"v":159},{"s":"S","c":22,"f":2,"v":152},{"s":"S","c":22,"f":5,"v":134},{"s":"S","c":22,"f":10,"v":119},{"s":"S","c":22,"f":20,"v":101},{"s":"S","c":22,"f":50,"v":93},{"s":"S","c":22,"f":100,"v":95},{"s":"S","c":22,"f":150,"v":95},{"s":"S","c":22,"f":200,"v":88},{"s":"S","c":22,"f":300,"v":60},{"s":"S","c":22,"f":500,"v":26},{"s":"S","c":22,"f":1000,"v":3},{"s":"S","c":22,"f":3000,"v":0.4},{"s":"S","c":22,"f":10000,"v":0},
{"s":"S","c":23,"f":0.01,"v":94},{"s":"S","c":23,"f":0.02,"v":101},{"s":"S","c":23,"f":0.05,"v":113.5},{"s":"S","c":23,"f":0.1,"v":126},{"s":"S","c":23,"f":0.2,"v":139.5},{"s":"S","c":23,"f":0.5,"v":153},{"s":"S","c":23,"f":1,"v":157},{"s":"S","c":23,"f":2,"v":153},{"s":"S","c":23,"f":5,"v":137},{"s":"S","c":23,"f":10,"v":121},{"s":"S","c":23,"f":20,"v":103},{"s":"S","c":23,"f":50,"v":96},{"s":"S","c":23,"f":100,"v":99},{"s":"S","c":23,"f":150,"v":100},{"s":"S","c":23,"f":200,"v":94},{"s":"S","c":23,"f":300,"v":67},{"s":"S","c":23,"f":500,"v":31},{"s":"S","c":23,"f":1000,"v":4},{"s":"S","c":23,"f":3000,"v":0.5},{"s":"S","c":23,"f":10000,"v":0},
{"s":"S","c":24,"f":0.01,"v":93},{"s":"S","c":24,"f":0.02,"v":98},{"s":"S","c":24,"f":0.05,"v":108},{"s":"S","c":24,"f":0.1,"v":119},{"s":"S","c":24,"f":0.2,"v":131},{"s":"S","c":24,"f":0.5,"v":146},{"s":"S","c":24,"f":1,"v":151.5},{"s":"S","c":24,"f":2,"v":150},{"s":"S","c":24,"f":5,"v":138},{"s":"S","c":24,"f":10,"v":122},{"s":"S","c":24,"f":20,"v":103},{"s":"S","c":24,"f":50,"v":92},{"s":"S","c":24,"f":100,"v":91},{"s":"S","c":24,"f":150,"v":88.5},{"s":"S","c":24,"f":200,"v":80},{"s":"S","c":24,"f":300,"v":52},{"s":"S","c":24,"f":500,"v":21},{"s":"S","c":24,"f":1000,"v":2.5},{"s":"S","c":24,"f":3000,"v":0.3},{"s":"S","c":24,"f":10000,"v":0},
{"s":"S","c":25,"f":0.01,"v":92},{"s":"S","c":25,"f":0.02,"v":96.5},{"s":"S","c":25,"f":0.05,"v":105},{"s":"S","c":25,"f":0.1,"v":114.5},{"s":"S","c":25,"f":0.2,"v":126},{"s":"S","c":25,"f":0.5,"v":140},{"s":"S","c":25,"f":1,"v":147},{"s":"S","c":25,"f":2,"v":147.5},{"s":"S","c":25,"f":5,"v":136},{"s":"S","c":25,"f":10,"v":120},{"s":"S","c":25,"f":20,"v":101},{"s":"S","c":25,"f":50,"v":92},{"s":"S","c":25,"f":100,"v":95},{"s":"S","c":25,"f":150,"v":95},{"s":"S","c":25,"f":200,"v":88},{"s":"S","c":25,"f":300,"v":60},{"s":"S","c":25,"f":500,"v":26},{"s":"S","c":25,"f":1000,"v":3},{"s":"S","c":25,"f":3000,"v":0.4},{"s":"S","c":25,"f":10000,"v":0},
{"s":"S","c":26,"f":0.01,"v":91},{"s":"S","c":26,"f":0.02,"v":96},{"s":"S","c":26,"f":0.05,"v":103.5},{"s":"S","c":26,"f":0.1,"v":112.5},{"s":"S","c":26,"f":0.2,"v":123.5},{"s":"S","c":26,"f":0.5,"v":137},{"s":"S","c":26,"f":1,"v":143.5},{"s":"S","c":26,"f":2,"v":144.5},{"s":"S","c":26,"f":5,"v":134},{"s":"S","c":26,"f":10,"v":117},{"s":"S","c":26,"f":20,"v":99},{"s":"S","c":26,"f":50,"v":88},{"s":"S","c":26,"f":100,"v":85},{"s":"S","c":26,"f":150,"v":80},{"s":"S","c":26,"f":200,"v":70},{"s":"S","c":26,"f":300,"v":45},{"s":"S","c":26,"f":500,"v":16},{"s":"S","c":26,"f":1000,"v":2},{"s":"S","c":26,"f":3000,"v":0.3},{"s":"S","c":26,"f":10000,"v":0},
{"s":"S","c":27,"f":0.01,"v":90.5},{"s":"S","c":27,"f":0.02,"v":94},{"s":"S","c":27,"f":0.05,"v":100},{"s":"S","c":27,"f":0.1,"v":107.5},{"s":"S","c":27,"f":0.2,"v":117},{"s":"S","c":27,"f":0.5,"v":130},{"s":"S","c":27,"f":1,"v":137},{"s":"S","c":27,"f":2,"v":140},{"s":"S","c":27,"f":5,"v":133},{"s":"S","c":27,"f":10,"v":118},{"s":"S","c":27,"f":20,"v":100},{"s":"S","c":27,"f":50,"v":90},{"s":"S","c":27,"f":100,"v":90},{"s":"S","c":27,"f":150,"v":88},{"s":"S","c":27,"f":200,"v":80},{"s":"S","c":27,"f":300,"v":52},{"s":"S","c":27,"f":500,"v":21},{"s":"S","c":27,"f":1000,"v":2.5},{"s":"S","c":27,"f":3000,"v":0.3},{"s":"S","c":27,"f":10000,"v":0},
{"s":"S","c":28,"f":0.01,"v":90},{"s":"S","c":28,"f":0.02,"v":92.8},{"s":"S","c":28,"f":0.05,"v":97},{"s":"S","c":28,"f":0.1,"v":103},{"s":"S","c":28,"f":0.2,"v":110},{"s":"S","c":28,"f":0.5,"v":122},{"s":"S","c":28,"f":1,"v":129},{"s":"S","c":28,"f":2,"v":132.7},{"s":"S","c":28,"f":5,"v":128},{"s":"S","c":28,"f":10,"v":114},{"s":"S","c":28,"f":20,"v":98},{"s":"S","c":28,"f":50,"v":86},{"s":"S","c":28,"f":100,"v":78},{"s":"S","c":28,"f":150,"v":70},{"s":"S","c":28,"f":200,"v":60},{"s":"S","c":28,"f":300,"v":36},{"s":"S","c":28,"f":500,"v":11},{"s":"S","c":28,"f":1000,"v":1.5},{"s":"S","c":28,"f":3000,"v":0.2},{"s":"S","c":28,"f":10000,"v":0},
{"s":"S","c":29,"f":0.01,"v":89.5},{"s":"S","c":29,"f":0.02,"v":92},{"s":"S","c":29,"f":0.05,"v":96},{"s":"S","c":29,"f":0.1,"v":100.7},{"s":"S","c":29,"f":0.2,"v":107},{"s":"S","c":29,"f":0.5,"v":116.6},{"s":"S","c":29,"f":1,"v":122.6},{"s":"S","c":29,"f":2,"v":125.8},{"s":"S","c":29,"f":5,"v":122},{"s":"S","c":29,"f":10,"v":110},{"s":"S","c":29,"f":20,"v":96},{"s":"S","c":29,"f":50,"v":86},{"s":"S","c":29,"f":100,"v":85},{"s":"S","c":29,"f":150,"v":80},{"s":"S","c":29,"f":200,"v":70},{"s":"S","c":29,"f":300,"v":45},{"s":"S","c":29,"f":500,"v":16},{"s":"S","c":29,"f":1000,"v":2},{"s":"S","c":29,"f":3000,"v":0.3},{"s":"S","c":29,"f":10000,"v":0},
{"s":"S","c":30,"f":0.01,"v":89},{"s":"S","c":30,"f":0.02,"v":89.5},{"s":"S","c":30,"f":0.05,"v":90.5},{"s":"S","c":30,"f":0.1,"v":92},{"s":"S","c":30,"f":0.2,"v":94},{"s":"S","c":30,"f":0.5,"v":97.5},{"s":"S","c":30,"f":1,"v":100.5},{"s":"S","c":30,"f":2,"v":102.5},{"s":"S","c":30,"f":5,"v":102.5},{"s":"S","c":30,"f":10,"v":99},{"s":"S","c":30,"f":20,"v":92},{"s":"S","c":30,"f":50,"v":84},{"s":"S","c":30,"f":100,"v":78},{"s":"S","c":30,"f":150,"v":70},{"s":"S","c":30,"f":200,"v":60},{"s":"S","c":30,"f":300,"v":36},{"s":"S","c":30,"f":500,"v":11},{"s":"S","c":30,"f":1000,"v":1.5},{"s":"S","c":30,"f":3000,"v":0.2},{"s":"S","c":30,"f":10000,"v":0},
{"s":"S","c":31,"f":0.01,"v":89},{"s":"S","c":31,"f":0.1,"v":89},{"s":"S","c":31,"f":0.5,"v":88.5},{"s":"S","c":31,"f":1,"v":88},{"s":"S","c":31,"f":2,"v":87},{"s":"S","c":31,"f":5,"v":85},{"s":"S","c":31,"f":10,"v":83},{"s":"S","c":31,"f":20,"v":80},{"s":"S","c":31,"f":50,"v":75},{"s":"S","c":31,"f":100,"v":67},{"s":"S","c":31,"f":150,"v":55},{"s":"S","c":31,"f":200,"v":42},{"s":"S","c":31,"f":300,"v":26},{"s":"S","c":31,"f":500,"v":5},{"s":"S","c":31,"f":1000,"v":1},{"s":"S","c":31,"f":3000,"v":0},{"s":"S","c":31,"f":10000,"v":0},
{"s":"S","c":32,"f":0.01,"v":94},{"s":"S","c":32,"f":0.02,"v":102},{"s":"S","c":32,"f":0.05,"v":114.7},{"s":"S","c":32,"f":0.1,"v":127},{"s":"S","c":32,"f":0.2,"v":140},{"s":"S","c":32,"f":0.5,"v":152.5},{"s":"S","c":32,"f":1,"v":154.8},{"s":"S","c":32,"f":2,"v":149},{"s":"S","c":32,"f":5,"v":134},{"s":"S","c":32,"f":10,"v":119},{"s":"S","c":32,"f":20,"v":101},{"s":"S","c":32,"f":50,"v":93},{"s":"S","c":32,"f":100,"v":95},{"s":"S","c":32,"f":150,"v":95},{"s":"S","c":32,"f":200,"v":88},{"s":"S","c":32,"f":300,"v":60},{"s":"S","c":32,"f":500,"v":26},{"s":"S","c":32,"f":1000,"v":3},{"s":"S","c":32,"f":3000,"v":0.4},{"s":"S","c":32,"f":10000,"v":0},
{"s":"S","c":33,"f":0.01,"v":91},{"s":"S","c":33,"f":0.02,"v":94.8},{"s":"S","c":33,"f":0.05,"v":101.5},{"s":"S","c":33,"f":0.1,"v":109.5},{"s":"S","c":33,"f":0.2,"v":119.4},{"s":"S","c":33,"f":0.5,"v":132.8},{"s":"S","c":33,"f":1,"v":139.9},{"s":"S","c":33,"f":2,"v":141.8},{"s":"S","c":33,"f":5,"v":134},{"s":"S","c":33,"f":10,"v":117},{"s":"S","c":33,"f":20,"v":99},{"s":"S","c":33,"f":50,"v":89},{"s":"S","c":33,"f":100,"v":90},{"s":"S","c":33,"f":150,"v":88},{"s":"S","c":33,"f":200,"v":80},{"s":"S","c":33,"f":300,"v":52},{"s":"S","c":33,"f":500,"v":21},{"s":"S","c":33,"f":1000,"v":2.5},{"s":"S","c":33,"f":3000,"v":0.3},{"s":"S","c":33,"f":10000,"v":0},
{"s":"L","c":41,"f":0.01,"v":0},{"s":"L","c":41,"f":1,"v":0},{"s":"L","c":41,"f":5,"v":-0.5},{"s":"L","c":41,"f":10,"v":-1.5},{"s":"L","c":41,"f":20,"v":-4},{"s":"L","c":41,"f":50,"v":-12},{"s":"L","c":41,"f":100,"v":-30},{"s":"L","c":41,"f":150,"v":-48},{"s":"L","c":41,"f":200,"v":-66},{"s":"L","c":41,"f":300,"v":-105},{"s":"L","c":41,"f":500,"v":-155},{"s":"L","c":41,"f":700,"v":-163},{"s":"L","c":41,"f":1000,"v":-167},{"s":"L","c":41,"f":2000,"v":-174},{"s":"L","c":41,"f":5000,"v":-178},{"s":"L","c":41,"f":10000,"v":-179.3},
{"s":"L","c":42,"f":0.01,"v":0},{"s":"L","c":42,"f":1,"v":0},{"s":"L","c":42,"f":5,"v":-0.4},{"s":"L","c":42,"f":10,"v":-1.3},{"s":"L","c":42,"f":20,"v":-3.6},{"s":"L","c":42,"f":50,"v":-10.8},{"s":"L","c":42,"f":100,"v":-26.7},{"s":"L","c":42,"f":150,"v":-43},{"s":"L","c":42,"f":200,"v":-59.7},{"s":"L","c":42,"f":300,"v":-97.5},{"s":"L","c":42,"f":500,"v":-149.8},{"s":"L","c":42,"f":700,"v":-160.5},{"s":"L","c":42,"f":1000,"v":-165.7},{"s":"L","c":42,"f":2000,"v":-173.3},{"s":"L","c":42,"f":5000,"v":-177.8},{"s":"L","c":42,"f":10000,"v":-179.2},
{"s":"L","c":43,"f":0.01,"v":0},{"s":"L","c":43,"f":1,"v":0},{"s":"L","c":43,"f":5,"v":-0.3},{"s":"L","c":43,"f":10,"v":-1.2},{"s":"L","c":43,"f":20,"v":-3.2},{"s":"L","c":43,"f":50,"v":-9.7},{"s":"L","c":43,"f":100,"v":-23.3},{"s":"L","c":43,"f":150,"v":-38},{"s":"L","c":43,"f":200,"v":-53.3},{"s":"L","c":43,"f":300,"v":-90},{"s":"L","c":43,"f":500,"v":-144.7},{"s":"L","c":43,"f":700,"v":-158},{"s":"L","c":43,"f":1000,"v":-164.3},{"s":"L","c":43,"f":2000,"v":-172.7},{"s":"L","c":43,"f":5000,"v":-177.5},{"s":"L","c":43,"f":10000,"v":-179.1},
{"s":"L","c":44,"f":0.01,"v":0},{"s":"L","c":44,"f":1,"v":0},{"s":"L","c":44,"f":5,"v":-0.25},{"s":"L","c":44,"f":10,"v":-1},{"s":"L","c":44,"f":20,"v":-2.8},{"s":"L","c":44,"f":50,"v":-8.5},{"s":"L","c":44,"f":100,"v":-20},{"s":"L","c":44,"f":150,"v":-33},{"s":"L","c":44,"f":200,"v":-47},{"s":"L","c":44,"f":300,"v":-82.5},{"s":"L","c":44,"f":500,"v":-139.5},{"s":"L","c":44,"f":700,"v":-155.5},{"s":"L","c":44,"f":1000,"v":-163},{"s":"L","c":44,"f":2000,"v":-172},{"s":"L","c":44,"f":5000,"v":-177.3},{"s":"L","c":44,"f":10000,"v":-179},
{"s":"L","c":45,"f":0.01,"v":0},{"s":"L","c":45,"f":1,"v":0},{"s":"L","c":45,"f":5,"v":-0.2},{"s":"L","c":45,"f":10,"v":-0.8},{"s":"L","c":45,"f":20,"v":-2.3},{"s":"L","c":45,"f":50,"v":-7.3},{"s":"L","c":45,"f":100,"v":-16.7},{"s":"L","c":45,"f":150,"v":-28},{"s":"L","c":45,"f":200,"v":-40.7},{"s":"L","c":45,"f":300,"v":-75},{"s":"L","c":45,"f":500,"v":-134.3},{"s":"L","c":45,"f":700,"v":-153},{"s":"L","c":45,"f":1000,"v":-161.7},{"s":"L","c":45,"f":2000,"v":-171.3},{"s":"L","c":45,"f":5000,"v":-177},{"s":"L","c":45,"f":10000,"v":-179},
{"s":"L","c":46,"f":0.01,"v":0},{"s":"L","c":46,"f":1,"v":0},{"s":"L","c":46,"f":5,"v":-0.1},{"s":"L","c":46,"f":10,"v":-0.7},{"s":"L","c":46,"f":20,"v":-1.9},{"s":"L","c":46,"f":50,"v":-6.2},{"s":"L","c":46,"f":100,"v":-13.3},{"s":"L","c":46,"f":150,"v":-23},{"s":"L","c":46,"f":200,"v":-34.3},{"s":"L","c":46,"f":300,"v":-67.5},{"s":"L","c":46,"f":500,"v":-129.2},{"s":"L","c":46,"f":700,"v":-150.5},{"s":"L","c":46,"f":1000,"v":-160.3},{"s":"L","c":46,"f":2000,"v":-170.7},{"s":"L","c":46,"f":5000,"v":-176.8},{"s":"L","c":46,"f":10000,"v":-178.9},
{"s":"L","c":47,"f":0.01,"v":0},{"s":"L","c":47,"f":1,"v":0},{"s":"L","c":47,"f":5,"v":0},{"s":"L","c":47,"f":10,"v":-0.5},{"s":"L","c":47,"f":20,"v":-1.5},{"s":"L","c":47,"f":50,"v":-5},{"s":"L","c":47,"f":100,"v":-10},{"s":"L","c":47,"f":150,"v":-18},{"s":"L","c":47,"f":200,"v":-28},{"s":"L","c":47,"f":300,"v":-60},{"s":"L","c":47,"f":500,"v":-124},{"s":"L","c":47,"f":700,"v":-148},{"s":"L","c":47,"f":1000,"v":-159},{"s":"L","c":47,"f":2000,"v":-170},{"s":"L","c":47,"f":5000,"v":-176.5},{"s":"L","c":47,"f":10000,"v":-178.8}
]
},
"vconcat": [
{
  "width": 582, "height": 301,
  "title": {"text": "Closed-loop analysis", "font": "Liberation Sans", "fontSize": 17, "fontWeight": "bold", "color": "#000000", "anchor": "middle", "frame": "group", "offset": 2, "dx": -9},
  "data": {"name": "mag"},
  "encoding": {
    "x": {"field": "f", "type": "quantitative", "scale": {"type": "log", "domain": [0.01, 10000], "nice": false},
      "axis": {"values": [0.01,0.02,0.03,0.04,0.05,0.06,0.07,0.08,0.09,0.1,0.2,0.3,0.4,0.5,0.6,0.7,0.8,0.9,1,2,3,4,5,6,7,8,9,10,20,30,40,50,60,70,80,90,100,200,300,400,500,600,700,800,900,1000,2000,3000,4000,5000,6000,7000,8000,9000,10000],
        "labels": false, "title": null, "tickSize": -4,
        "gridDash": {"condition": {"test": "datum.value===0.01||datum.value===1||datum.value===100||datum.value===10000", "value": [1, 0]}, "value": [1.5, 2]},
        "gridColor": {"condition": {"test": "datum.value===0.01||datum.value===1||datum.value===100||datum.value===10000", "value": "#dedede"}, "value": "#c4c4c4"}}},
    "y": {"field": "v", "type": "quantitative", "scale": {"domain": [-200, 200], "nice": false, "zero": false},
      "axis": {"values": [-200, -100, 0, 100, 200], "title": "Magnitude (dB)", "labelFont": "Liberation Serif", "tickSize": -5, "labelPadding": 13, "minExtent": 48, "maxExtent": 48, "titlePadding": 2}},
    "color": {"field": "s", "type": "nominal", "scale": {"domain": ["T", "S", "L"], "range": ["#0072BD", "#D95319", "#EDB120"]},
      "legend": {"title": null, "orient": "top-right", "offset": 14,
        "labelExpr": "datum.label==='T'?'Complementary sensitivity':datum.label==='S'?'Sensitivity function':'Loop transfer function'",
        "symbolType": "M-1.55,0H1.55", "symbolSize": 600, "symbolStrokeWidth": 1.2, "symbolOpacity": 0.5, "symbolOffset": 7,
        "labelFont": "Liberation Sans", "labelFontSize": 19, "labelColor": "#262626", "labelOffset": 8, "labelLimit": 400,
        "fillColor": "white", "strokeColor": "#262626", "padding": 2, "rowPadding": 3}},
    "detail": {"field": "c", "type": "nominal"}
  },
  "layer": [
    {"transform": [{"filter": "datum.s==='T'"}], "mark": {"type": "line", "interpolate": "monotone", "strokeWidth": 2.1}},
    {"transform": [{"filter": "datum.s==='S'"}], "mark": {"type": "line", "interpolate": "monotone", "strokeWidth": 2.1}},
    {"transform": [{"filter": "datum.s==='L'"}], "mark": {"type": "line", "interpolate": "monotone", "strokeWidth": 2.1}}
  ]
},
{
  "width": 582, "height": 265,
  "data": {"name": "ph"},
  "encoding": {
    "x": {"field": "f", "type": "quantitative", "scale": {"type": "log", "domain": [0.01, 10000], "nice": false},
      "axis": {"values": [0.01,0.02,0.03,0.04,0.05,0.06,0.07,0.08,0.09,0.1,0.2,0.3,0.4,0.5,0.6,0.7,0.8,0.9,1,2,3,4,5,6,7,8,9,10,20,30,40,50,60,70,80,90,100,200,300,400,500,600,700,800,900,1000,2000,3000,4000,5000,6000,7000,8000,9000,10000],
        "labelExpr": "datum.value===0.01?'10⁻²':datum.value===1?'10⁰':datum.value===100?'10²':datum.value===10000?'10⁴':''",
        "labelFont": "Liberation Serif",
        "labelOverlap": false, "labelFlush": false, "labelBound": false,
        "title": "Frequency\u00a0 (rad/s)", "tickSize": -4, "labelPadding": 15, "titlePadding": 12,
        "gridDash": {"condition": {"test": "datum.value===0.01||datum.value===1||datum.value===100||datum.value===10000", "value": [1, 0]}, "value": [1.5, 2]},
        "gridColor": {"condition": {"test": "datum.value===0.01||datum.value===1||datum.value===100||datum.value===10000", "value": "#dedede"}, "value": "#c4c4c4"}}},
    "y": {"field": "v", "type": "quantitative", "scale": {"domain": [-180, 180], "nice": false, "zero": false},
      "axis": {"values": [-180, -90, 0, 90, 180], "title": "Phase (deg)", "labelFont": "Liberation Serif", "tickSize": -5, "labelPadding": 13, "minExtent": 48, "maxExtent": 48, "titlePadding": 2}},
    "color": {"field": "s", "type": "nominal", "scale": {"domain": ["T", "S", "L"], "range": ["#0072BD", "#D95319", "#EDB120"]}, "legend": null},
    "detail": {"field": "c", "type": "nominal"}
  },
  "layer": [
    {"transform": [{"filter": "datum.s==='T'"}], "mark": {"type": "line", "interpolate": "monotone", "strokeWidth": 2.1}},
    {"transform": [{"filter": "datum.s==='S'"}], "mark": {"type": "line", "interpolate": "monotone", "strokeWidth": 2.1}},
    {"transform": [{"filter": "datum.s==='L'"}], "mark": {"type": "line", "interpolate": "monotone", "strokeWidth": 2.1}}
  ]
}
],
"resolve": {"scale": {"color": "independent"}, "legend": {"color": "independent"}}
}
